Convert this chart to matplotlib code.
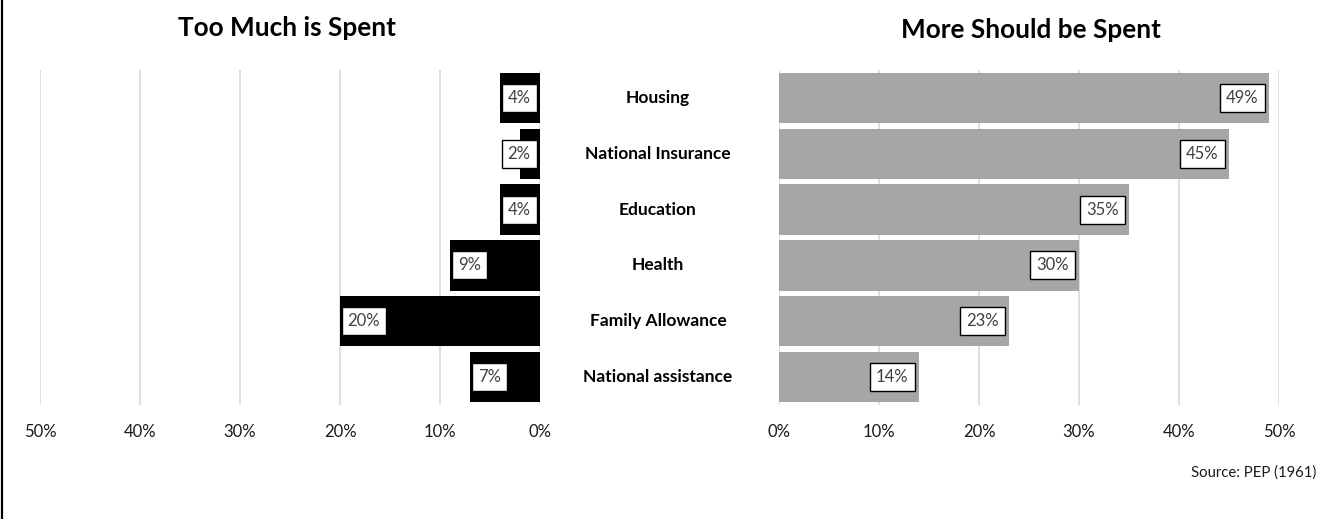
import matplotlib
matplotlib.use("Agg")
import matplotlib.pyplot as plt
from matplotlib.transforms import blended_transform_factory
from matplotlib.lines import Line2D

plt.rcParams['font.family'] = ['Lato', 'DejaVu Sans']

categories = ["Housing", "National Insurance", "Education", "Health",
              "Family Allowance", "National assistance"]
too_much = [4, 2, 4, 9, 20, 7]
more_should = [49, 45, 35, 30, 23, 14]
ticks = [0, 10, 20, 30, 40, 50]
tick_labels = ["0%", "10%", "20%", "30%", "40%", "50%"]

W, H = 1318, 519
fig = plt.figure(figsize=(W / 100, H / 100), dpi=100)
fig.patch.set_facecolor("white")


def px(x0, y0, x1, y1):
    return [x0 / W, 1 - y1 / H, (x1 - x0) / W, (y1 - y0) / H]


axL = fig.add_axes(px(40, 70, 540, 405))
axR = fig.add_axes(px(779, 70, 1279, 405))

ypos = list(range(len(categories)))

grid_c = "#d9d9d9"
for ax in (axL, axR):
    ax.set_xlim(0, 50)
    ax.set_ylim(len(categories) - 0.5, -0.5)
    ax.set_xticks(ticks)
    ax.set_xticklabels(tick_labels, fontsize=12, color="#1a1a1a")
    ax.tick_params(axis="x", length=0, pad=14)
    ax.set_yticks([])
    for s in ax.spines.values():
        s.set_visible(False)
    ax.grid(axis="x", color=grid_c, linewidth=1.2)
    ax.set_axisbelow(True)

axL.invert_xaxis()

axL.barh(ypos, too_much, height=0.9, color="black", zorder=2)
axR.barh(ypos, more_should, height=0.9, color="#a6a6a6", zorder=2)

box = dict(boxstyle="square,pad=0.36", fc="white", ec="black", lw=1.0)
lab_kw = dict(fontsize=12, color="#404040", va="center", bbox=box,
              textcoords="offset points", zorder=4)

# Left panel: labels sit just inside the bar end, never closer to 0 than 4%
for y, v in zip(ypos, too_much):
    axL.annotate(f"{v}%", xy=(max(v, 4), y), xytext=(5.5, 0), ha="left", **lab_kw)

for y, v in zip(ypos, more_should):
    axR.annotate(f"{v}%", xy=(v, y), xytext=(-7.5, 0), ha="right", **lab_kw)

# Category names between the two panels
tr = blended_transform_factory(fig.transFigure, axL.transData)
for y, c in zip(ypos, categories):
    fig.text(658 / W, y, c, transform=tr, ha="center", va="center",
             fontsize=12.5, fontweight="bold", color="black")

fig.text(287 / W, 1 - 28.5 / H, "Too Much is Spent", ha="center", va="center",
         fontsize=18.8, fontweight="bold")
fig.text(1031 / W, 1 - 30.5 / H, "More Should be Spent", ha="center", va="center",
         fontsize=18.8, fontweight="bold")

fig.text(1316 / W, 1 - 473 / H, "Source: PEP (1961)", ha="right", va="center",
         fontsize=10.7, color="#1a1a1a")

fig.add_artist(Line2D([1.5 / W, 1.5 / W], [0, 1], transform=fig.transFigure,
                      color="black", lw=1.6))

fig.savefig("out.png", dpi=100, facecolor="white")
